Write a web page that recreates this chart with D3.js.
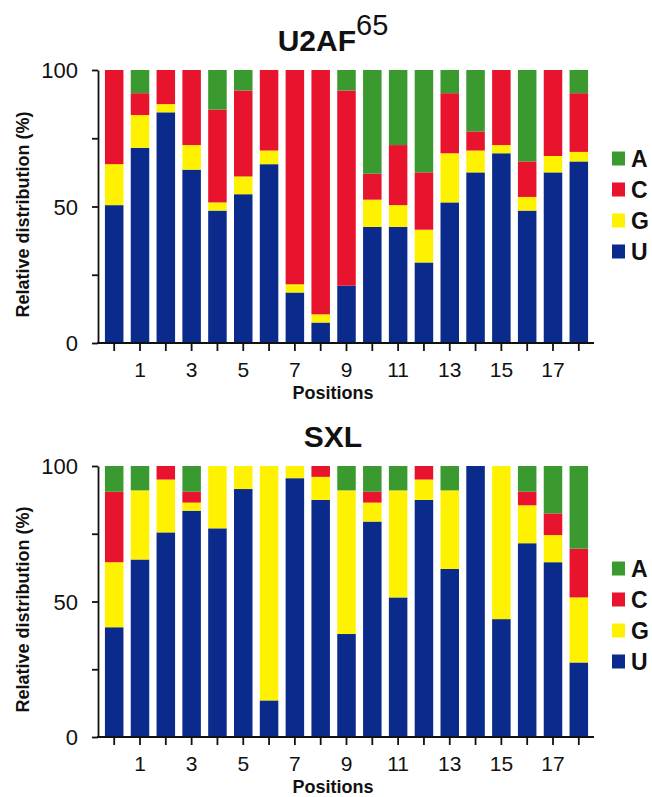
<!DOCTYPE html>
<html>
<head>
<meta charset="utf-8">
<script src="https://cdn.jsdelivr.net/npm/d3@7"></script>
<style>
  body { margin: 0; background: #fff; }
  svg { display: block; font-family: "Liberation Sans", Arial, sans-serif; }
</style>
</head>
<body>
<div id="chart"></div>
<script>
// positions along the RNA (19 bars), labelled every other one
const positions = [0, 1, 2, 3, 4, 5, 6, 7, 8, 9, 10, 11, 12, 13, 14, 15, 16, 17, 18];
const tickLabels = [1, 3, 5, 7, 9, 11, 13, 15, 17];
const bases = ["U", "G", "C", "A"];            // stacking order, bottom -> top
const legendBases = ["A", "C", "G", "U"];

// U2AF65 panel (%)
const u2afU = [50.5, 71.5, 84.5, 63.5, 48.5, 54.5, 65.5, 18.5, 7.5, 21, 42.5, 42.5, 29.5, 51.5, 62.5, 69.5, 48.5, 62.5, 66.5];
const u2afG = [15, 12, 3, 9, 3, 6.5, 5, 3, 3, 0, 10, 8, 12, 18, 8, 3, 5, 6, 3.5];
const u2afC = [34.5, 8, 12.5, 27.5, 34, 31.5, 29.5, 78.5, 89.5, 71.5, 9.5, 22, 21, 22, 7, 27.5, 13, 31.5, 21.5];
const u2afA = [0, 8.5, 0, 0, 14.5, 7.5, 0, 0, 0, 7.5, 38, 27.5, 37.5, 8.5, 22.5, 0, 33.5, 0, 8.5];

// SXL panel (%)
const sxlU = [40.5, 65.5, 75.5, 83.5, 77, 91.5, 13.5, 95.5, 87.5, 38, 79.5, 51.5, 87.5, 62, 100, 43.5, 71.5, 64.5, 27.5];
const sxlG = [24, 25.5, 19.5, 3, 23, 8.5, 86.5, 4.5, 8.5, 53, 7, 39.5, 7.5, 29, 0, 56.5, 14, 10, 24];
const sxlC = [26, 0, 5, 4, 0, 0, 0, 0, 4, 0, 4, 0, 5, 0, 0, 0, 5, 8, 18];
const sxlA = [9.5, 9, 0, 9.5, 0, 0, 0, 0, 0, 9, 9.5, 9, 0, 9, 0, 0, 9.5, 17.5, 30.5];

const colors = { A: "#3a9a30", C: "#e8132c", G: "#fff200", U: "#0b2b8c" };

const width = 652, height = 797;
const svg = d3.select("#chart").append("svg")
  .attr("width", width)
  .attr("height", height);

const x = d3.scaleBand()
  .domain(positions)
  .range([99, 594])
  .paddingInner(0.283)
  .paddingOuter(0.23);

function drawPanel(U, G, C, A, top, bottom, legendMid, titleMain, titleSup) {
  const rows = positions.map((p, i) => ({ pos: p, U: U[i], G: G[i], C: C[i], A: A[i] }));
  const series = d3.stack().keys(bases)(rows);

  const y = d3.scaleLinear().domain([0, 100]).range([bottom, top]);
  const g = svg.append("g");

  g.selectAll("g.layer")
    .data(series)
    .enter()
    .append("g")
    .attr("class", "layer")
    .attr("fill", d => colors[d.key])
    .selectAll("rect")
    .data(d => d)
    .enter()
    .append("rect")
    .attr("x", d => x(d.data.pos))
    .attr("width", x.bandwidth())
    .attr("y", d => y(d[1]))
    .attr("height", d => y(d[0]) - y(d[1]));

  // y axis
  const yAxis = g.append("g")
    .attr("transform", `translate(${x.range()[0] - 1},0)`)
    .call(d3.axisLeft(y)
      .tickValues([0, 25, 50, 75, 100])
      .tickFormat(d => d % 50 === 0 ? d : "")
      .tickSize(6)
      .tickSizeOuter(0)
      .tickPadding(14));
  yAxis.selectAll("text")
    .style("font-size", "22px")
    .attr("fill", "#111")
    .attr("dy", "0.36em");

  // x axis
  const xAxis = g.append("g")
    .attr("transform", `translate(0,${bottom})`)
    .call(d3.axisBottom(x)
      .tickFormat(d => tickLabels.includes(d) ? d : "")
      .tickSize(8)
      .tickSizeOuter(0)
      .tickPadding(11));
  xAxis.select(".domain").attr("d", `M${x.range()[0] - 2},0H${x.range()[1]}`);
  xAxis.selectAll("text")
    .style("font-size", "21px")
    .attr("fill", "#111");

  [yAxis, xAxis].forEach(a => {
    a.selectAll(".domain, line").attr("stroke", "#111").attr("stroke-width", 1.8);
  });

  // axis titles
  g.append("text")
    .attr("x", 333)
    .attr("y", bottom + 56)
    .attr("text-anchor", "middle")
    .style("font-size", "18px")
    .style("font-weight", "bold")
    .attr("fill", "#111")
    .text("Positions");

  g.append("text")
    .attr("transform", `translate(29,${(top + bottom) / 2 + 8}) rotate(-90)`)
    .attr("text-anchor", "middle")
    .style("font-size", "18px")
    .style("font-weight", "bold")
    .attr("fill", "#111")
    .text("Relative distribution (%)");

  // panel title
  const t = g.append("text")
    .attr("x", 333)
    .attr("y", top - 19)
    .attr("text-anchor", "middle")
    .style("font-size", "30px")
    .style("font-weight", "bold")
    .attr("fill", "#111")
    .text(titleMain);
  if (titleSup) {
    t.append("tspan")
      .attr("dy", -16)
      .style("font-weight", "normal")
      .style("font-size", "29px")
      .text(titleSup);
  }

  // legend
  const step = 31;
  const leg = g.append("g")
    .attr("transform", `translate(612,${legendMid - step * 1.5})`);
  const items = leg.selectAll("g")
    .data(legendBases)
    .enter()
    .append("g")
    .attr("transform", (d, i) => `translate(0,${i * step})`);
  items.append("rect")
    .attr("x", 0)
    .attr("y", -7)
    .attr("width", 13)
    .attr("height", 14)
    .attr("fill", d => colors[d]);
  items.append("text")
    .attr("x", 19)
    .attr("y", 0)
    .attr("dy", "0.36em")
    .style("font-size", "23px")
    .style("font-weight", "bold")
    .attr("fill", "#111")
    .text(d => d);
}

drawPanel(u2afU, u2afG, u2afC, u2afA, 70, 343, 205, "U2AF", "65");
drawPanel(sxlU, sxlG, sxlC, sxlA, 466, 737, 615, "SXL", null);
</script>
</body>
</html>
